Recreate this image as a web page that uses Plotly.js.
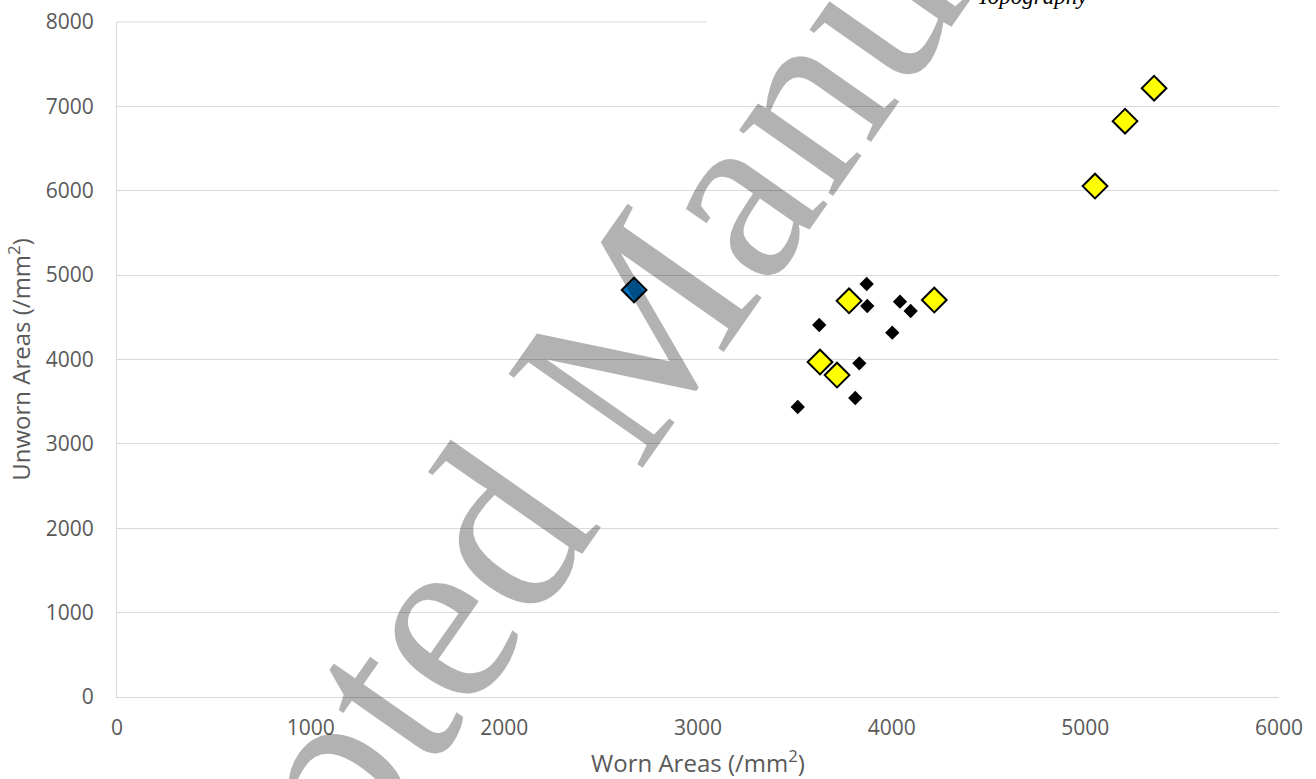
<!DOCTYPE html>
<html>
<head>
<meta charset="utf-8">
<script src="https://cdn.plot.ly/plotly-3.0.1.min.js"></script>
<style>html,body{margin:0;padding:0;background:#fff;}#chart{width:1316px;height:779px;}</style>
</head>
<body>
<div id="chart"></div>
<script>
// Data
const yellowX = [5355, 5205, 5050, 4220, 3780, 3630, 3718];
const yellowY = [7215, 6825, 6055, 4705, 4695, 3970, 3815];
const blueX = [2670];
const blueY = [4824];
const blackX = [3871, 3874, 4043, 4098, 3626, 4003, 3833, 3812, 3515];
const blackY = [4895, 4634, 4685, 4575, 4409, 4318, 3955, 3544, 3437];
const xTicks = [0, 1000, 2000, 3000, 4000, 5000, 6000];
const yTicks = [0, 1000, 2000, 3000, 4000, 5000, 6000, 7000, 8000];
const xTitle = 'Worn Areas (/mm<sup>2</sup>)';
const yTitle = 'Unworn Areas (/mm<sup>2</sup>)';
const watermark = 'Accepted Manuscript';
const caption = 'Topography';

const tickFont = {family: '"Open Sans", "Liberation Sans", sans-serif', size: 21, color: '#595959'};
const titleFont = {family: '"Open Sans", "Liberation Sans", sans-serif', size: 24, color: '#595959'};

const traces = [
  {x: yellowX, y: yellowY, type: 'scatter', mode: 'markers', name: 'Yellow',
   marker: {symbol: 'diamond', size: 19, color: '#FFFF00', line: {color: '#000000', width: 2}}},
  {x: blueX, y: blueY, type: 'scatter', mode: 'markers', name: 'Blue',
   marker: {symbol: 'diamond', size: 19, color: '#0070C0', line: {color: '#000000', width: 2}}},
  {x: blackX, y: blackY, type: 'scatter', mode: 'markers', name: 'Black',
   marker: {symbol: 'diamond', size: 11, color: '#000000', line: {color: '#000000', width: 0}}}
];

const layout = {
  width: 1316, height: 779,
  margin: {l: 117, r: 37, t: 22, b: 82},
  paper_bgcolor: '#ffffff', plot_bgcolor: '#ffffff',
  showlegend: false,
  font: tickFont,
  xaxis: {
    range: [0, 6000], tickvals: xTicks, ticktext: xTicks.map(String),
    showgrid: false, zeroline: false, showline: true, linecolor: '#d9d9d9', linewidth: 1,
    ticks: '', ticklabelstandoff: 12, tickfont: tickFont,
    title: {text: xTitle, font: titleFont, standoff: 16}
  },
  yaxis: {
    range: [0, 8000], tickvals: yTicks, ticktext: yTicks.map(String),
    showgrid: true, gridcolor: '#d9d9d9', gridwidth: 1,
    zeroline: false, showline: true, linecolor: '#d9d9d9', linewidth: 1,
    ticks: '', ticklabelstandoff: 18, tickfont: tickFont,
    title: {text: yTitle, font: titleFont, standoff: 8}
  },
  shapes: [
    {type: 'line', xref: 'paper', yref: 'paper', x0: 0, x1: 0.5077, y0: 1, y1: 1,
     line: {color: '#d9d9d9', width: 1}, layer: 'below'}
  ],
  annotations: [
    {text: caption, xref: 'paper', yref: 'paper', x: 0.7384, y: 1.0163,
     xanchor: 'left', yanchor: 'bottom', showarrow: false,
     font: {family: '"Liberation Serif", serif', size: 23, color: '#000000', style: 'italic'}},
    {text: watermark, xref: 'paper', yref: 'paper', x: 0.4225, y: 0.483,
     xanchor: 'center', yanchor: 'middle', showarrow: false, textangle: -55,
     font: {family: '"Liberation Serif", serif', size: 250, color: 'rgba(0,0,0,0.3)'}}
  ]
};

Plotly.newPlot('chart', traces, layout, {displayModeBar: false, staticPlot: true});
</script>
</body>
</html>
